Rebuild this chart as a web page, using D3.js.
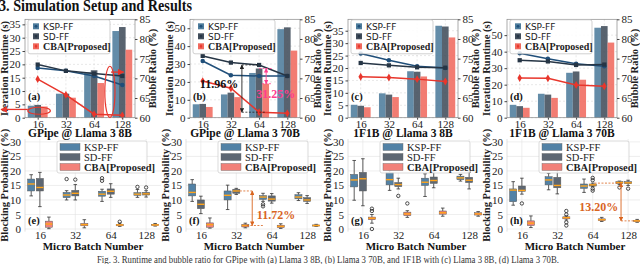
<!DOCTYPE html>
<html>
<head>
<meta charset="utf-8">
<script src="https://cdn.jsdelivr.net/npm/d3@7"></script>
<style>
body { margin: 0; background: #fff; }
svg { display: block; }
</style>
</head>
<body>
<div id="chart"></div>
<script>
// runtime / bubble ratio (top) and blocking probability (bottom)

const xCats = ["16", "32", "64", "128"]
const topTitles = ["GPipe @ Llama 3 8B", "GPipe @ Llama 3 70B", "1F1B @ Llama 3 8B", "1F1B @ Llama 3 70B"]
const topTags = ["(a)", "(b)", "(c)", "(d)"]
const botTags = ["(e)", "(f)", "(g)", "(h)"]
const seriesNames = ["KSP-FF", "SD-FF", "CBA[Proposed]"]

// iteration runtime bars (s)
const rtKSP = [[4.5, 9.0, 17.0, 32.5], [7.5, 13.0, 25.0, 49.5], [5.2, 9.8, 18.7, 37.0], [7.8, 14.5, 27.2, 54.5]]
const rtSD  = [[4.8, 9.0, 17.8, 34.0], [7.7, 14.0, 27.5, 50.5], [4.8, 9.3, 18.5, 36.7], [7.0, 14.0, 28.0, 55.5]]
const rtCBA = [[4.2, 7.5, 13.0, 25.5], [6.0, 11.5, 19.0, 37.5], [4.2, 8.3, 16.6, 32.3], [6.0, 12.0, 23.0, 45.5]]
// bubble ratio lines (%)
const brKSP = [[72.6, 71.9, 70.6, 68.3], [74.4, 70.8, 70.6, 70.6], [76.3, 74.6, 73.1, 72.6], [76.4, 75.0, 73.7, 73.1]]
const brSD  = [[73.5, 71.9, 71.2, 70.6], [75.7, 74.0, 73.4, 70.6], [73.9, 73.3, 72.8, 72.7], [74.6, 74.3, 73.4, 73.5]]
const brCBA = [[69.8, 65.8, 60.9, 60.6], [69.3, 67.5, 61.4, 61.1], [70.4, 70.2, 69.8, 69.2], [70.1, 70.0, 68.3, 68.0]]
const rtMax = [36.9, 55, 39.6, 59.6]
const rtTicks = [[0, 5, 10, 15, 20, 25, 30, 35], [0, 10, 20, 30, 40, 50], [0, 5, 10, 15, 20, 25, 30, 35], [0, 10, 20, 30, 40, 50]]
const brTicks = [60, 65, 70, 75, 80, 85]

// blocking probability boxes: [low whisker, q1, median, q3, high whisker]
const boxKSP = [
  [[11.4, 13.1, 15.5, 17.2, 18.7], [10.0, 10.8, 11.7, 12.6, 13.2], [9.5, 11.3, 12.0, 13.0, 13.7], [10.9, 11.6, 12.0, 12.5, 13.6]],
  [[9.5, 11.4, 12.6, 15.5, 17.0], [6.7, 10.0, 11.6, 13.1, 15.1], [9.5, 10.2, 11.0, 11.5, 12.3], [9.8, 10.4, 11.0, 11.8, 12.5]],
  [[9.9, 14.5, 16.9, 18.8, 23.6], [13.3, 15.2, 17.0, 19.5, 20.1], [11.2, 15.0, 16.1, 17.5, 19.0], [16.5, 17.0, 17.6, 18.2, 18.8]],
  [[8.2, 9.4, 13.4, 13.8, 16.3], [13.5, 15.2, 16.9, 18.0, 19.2], [12.6, 14.0, 14.8, 15.5, 17.2], [15.3, 15.7, 16.0, 16.3, 16.5]]
]
const boxSD = [
  [[7.7, 13.1, 14.3, 17.4, 19.5], [10.0, 11.4, 12.3, 13.3, 15.3], [10.9, 12.0, 13.0, 13.8, 15.6], [11.0, 11.7, 12.1, 12.6, 13.2]],
  [[5.3, 7.0, 8.5, 10.0, 11.3], [11.9, 12.3, 13.1, 13.7, 14.0], [8.9, 9.6, 10.3, 11.4, 12.2], [8.8, 9.5, 10.0, 10.8, 11.5]],
  [[8.0, 13.1, 17.3, 19.5, 24.2], [13.8, 14.6, 15.3, 16.0, 17.5], [14.2, 15.7, 16.7, 17.9, 20.0], [13.8, 16.0, 16.8, 17.8, 19.6]],
  [[12.0, 13.0, 13.3, 14.8, 17.5], [12.1, 14.2, 15.0, 17.8, 20.5], [14.6, 14.8, 15.2, 15.5, 15.8], [15.0, 15.6, 15.9, 16.3, 16.8]]
]
const boxCBA = [
  [[0.1, 0.6, 1.7, 2.7, 4.1], [0.4, 1.1, 1.5, 1.9, 3.2], [0.9, 1.1, 1.4, 1.6, 2.0], [1.0, 1.2, 1.4, 1.6, 1.9]],
  [[0.3, 0.6, 1.5, 2.1, 3.8], [0.4, 0.7, 1.2, 1.6, 2.0], [0.2, 0.5, 0.9, 1.3, 1.8], [0.9, 1.0, 1.2, 1.4, 1.6]],
  [[2.0, 3.2, 3.7, 4.1, 5.0], [4.0, 4.6, 5.2, 5.8, 6.3], [4.4, 5.1, 5.6, 6.2, 7.2], [4.4, 4.8, 5.2, 5.6, 6.0]],
  [[0.5, 1.2, 2.0, 2.8, 4.5], [3.1, 3.5, 3.9, 4.2, 4.5], [2.6, 2.9, 3.2, 3.5, 4.0], [2.3, 2.5, 2.8, 3.0, 3.3]]
]
const outKSP = [[[], [17.2], [17.5, 16.6], [14.5]], [[], [], [8.5, 7.8], []], [[], [], [], []], [[], [], [], [14.3]]]
const outSD  = [[[], [17.0], [], [14.3]], [[], [], [], []], [[], [11.4], [], []], [[8.8], [], [17.6, 16.8, 13.9, 13.2], [13.9]]]
const outCBA = [[[], [], [2.5], []], [[], [], [], []], [[7.0, 6.2, 0.0], [8.8], [], []], [[], [6.2, 5.0, 2.3, 1.2], [], []]]
const botTicks = [0, 5, 10, 15, 20, 25, 30]

// annotations
const annBubble = [73.4, 61.4], annBubbleText = "11.96%"
const annRuntime = [27.5, 19.0], annRuntimeText = "31.25%"
const annF = [13.1, 1.2], annFText = "11.72%"
const annH = [15.8, 2.8], annHText = "13.20%"

const serif = "'Liberation Serif', 'Times New Roman', serif"
const sans = "'DejaVu Sans', sans-serif"
const barCol = ["#4d7c9c", "#414d5b", "#f06a5e"]
const lineCol = ["#1f4e79", "#263545", "#e8362c"]
const boxCol = ["#5282a6", "#5d6773", "#f28179"]
const annOrange = "#d9651f"

const svg = d3.select("#chart").append("svg")
  .attr("width", 640).attr("height", 264)
  .style("font-family", serif)

const defs = svg.append("defs")
function mk(id, col) {
  defs.append("marker").attr("id", id).attr("viewBox", "0 0 10 10")
    .attr("refX", 9).attr("refY", 5).attr("markerWidth", 5).attr("markerHeight", 5)
    .attr("orient", "auto-start-reverse")
    .append("path").attr("d", "M0,0L10,5L0,10z").attr("fill", col)
}
mk("arRed", "#e8362c"); mk("arBlack", "#222"); mk("arPink", "#ff3d8f"); mk("arOrange", annOrange)

svg.append("text").attr("x", -1).attr("y", 11)
  .attr("font-size", 16).attr("font-weight", "bold").attr("fill", "#111")
  .attr("textLength", 193).attr("lengthAdjust", "spacingAndGlyphs")
  .text("3. Simulation Setup and Results")

const topLeft = [25, 190, 348, 507]
const topW = 110, tTop = 19.3, tBot = 117.7

function styleAxis(ax, size) {
  ax.select(".domain").remove()
  ax.selectAll(".tick line").attr("stroke", "#444")
  ax.selectAll(".tick text").attr("font-family", serif).attr("font-size", size).attr("fill", "#222")
}

function drawTop(i) {
  const L = topLeft[i], R = L + topW
  const g = svg.append("g")
  const x = d3.scaleLinear().domain([-0.45, 3.45]).range([L, R])
  const yL = d3.scaleLinear().domain([0, rtMax[i]]).range([tBot, tTop])
  const yR = d3.scaleLinear().domain([60, 85]).range([tBot, tTop])
  const bw = x(0.235) - x(0)

  g.selectAll(".hg").data(rtTicks[i]).join("line")
    .attr("x1", L).attr("x2", R).attr("y1", d => yL(d)).attr("y2", d => yL(d))
    .attr("stroke", "#d8d8d8").attr("stroke-width", 0.6).attr("stroke-dasharray", "2,2")
  g.selectAll(".vg").data([0, 1, 2, 3]).join("line")
    .attr("x1", d => x(d)).attr("x2", d => x(d)).attr("y1", tTop).attr("y2", tBot)
    .attr("stroke", "#d8d8d8").attr("stroke-width", 0.6).attr("stroke-dasharray", "2,2")

  const bars = [rtKSP[i], rtSD[i], rtCBA[i]]
  bars.forEach((vals, s) => {
    g.selectAll(".b" + s).data(vals).join("rect")
      .attr("x", (d, k) => x(k + (s - 1) * 0.235) - bw / 2)
      .attr("y", d => yL(d)).attr("width", bw).attr("height", d => tBot - yL(d))
      .attr("fill", barCol[s]).attr("fill-opacity", 0.88)
  })

  const lines = [brKSP[i], brSD[i], brCBA[i]]
  const ln = d3.line().x((d, k) => x(k)).y(d => yR(d))
  lines.forEach((vals, s) => {
    g.append("path").attr("d", ln(vals)).attr("fill", "none")
      .attr("stroke", lineCol[s]).attr("stroke-width", 1.5)
    const sym = [d3.symbolCircle, d3.symbolSquare, d3.symbolDiamond][s]
    const sz = [16, 18, 18][s]
    g.selectAll(".m" + s).data(vals).join("path")
      .attr("transform", (d, k) => `translate(${x(k)},${yR(d)})`)
      .attr("d", d3.symbol(sym, sz)).attr("fill", lineCol[s])
  })

  g.append("rect").attr("x", L).attr("y", tTop).attr("width", topW).attr("height", tBot - tTop)
    .attr("fill", "none").attr("stroke", "#888").attr("stroke-width", 0.7)

  const axL = g.append("g").attr("transform", `translate(${L},0)`)
    .call(d3.axisLeft(yL).tickValues(rtTicks[i]).tickSize(2.5).tickPadding(2))
  styleAxis(axL, 11)
  const axR = g.append("g").attr("transform", `translate(${R},0)`)
    .call(d3.axisRight(yR).tickValues(brTicks).tickSize(2.5).tickPadding(2))
  styleAxis(axR, 11)
  const axB = g.append("g").attr("transform", `translate(0,${tBot})`)
    .call(d3.axisBottom(x).tickValues([0, 1, 2, 3]).tickFormat(k => xCats[k]).tickSize(2).tickPadding(0))
  styleAxis(axB, 11)

  g.append("text").attr("transform", `translate(${L - 17},${(tTop + tBot) / 2}) rotate(-90)`)
    .attr("text-anchor", "middle").attr("font-size", 10.5).attr("font-weight", "bold").attr("fill", "#222")
    .text("Iteration Runtime (s)")
  g.append("text").attr("transform", `translate(${R + 21},${(tTop + tBot) / 2}) rotate(-90)`)
    .attr("text-anchor", "middle").attr("font-size", 10.5).attr("font-weight", "bold").attr("fill", "#222")
    .text("Bubble Ratio (%)")
  g.append("text").attr("x", (L + R) / 2).attr("y", 137).attr("text-anchor", "middle")
    .attr("font-size", 11.5).attr("font-weight", "bold").attr("fill", "#111").text(topTitles[i])
  g.append("text").attr("x", L + 3).attr("y", 100).attr("font-size", 10.5)
    .attr("font-weight", "bold").attr("fill", "#111").text(topTags[i])

  // legend
  const lg = g.append("g").attr("transform", `translate(${L + 3},${tTop + 0.5})`)
  lg.append("rect").attr("width", 82).attr("height", 34).attr("rx", 2)
    .attr("fill", "#fff").attr("fill-opacity", 0.85).attr("stroke", "#bbb").attr("stroke-width", 0.7)
  seriesNames.forEach((nm, s) => {
    const yy = 6.5 + s * 10
    lg.append("rect").attr("x", 5).attr("y", yy - 3).attr("width", 6).attr("height", 6).attr("fill", barCol[s])
    lg.append("path").attr("transform", `translate(8,${yy})`)
      .attr("d", d3.symbol([d3.symbolCircle, d3.symbolSquare, d3.symbolDiamond][s], 6)).attr("fill", lineCol[s])
    lg.append("text").attr("x", 15).attr("y", yy + 3.3)
      .attr("font-family", s < 2 ? sans : serif).attr("font-size", s < 2 ? 9 : 10)
      .attr("font-weight", s < 2 ? "normal" : "bold").attr("fill", "#222").text(nm)
  })
  return { x, yL, yR, g }
}

const tops = [0, 1, 2, 3].map(drawTop)

// annotations on (a)
{
  const { x, yL, g } = tops[0]
  g.append("ellipse").attr("cx", x(0.05)).attr("cy", yL(2.6)).attr("rx", x(0.4) - x(0)).attr("ry", 3.5)
    .attr("fill", "none").attr("stroke", "#e8362c").attr("stroke-width", 1.2)
  g.append("line").attr("x1", x(-0.35)).attr("x2", x(-1.3)).attr("y1", yL(3.1)).attr("y2", yL(3.1))
    .attr("stroke", "#e8362c").attr("stroke-width", 1.3).attr("marker-end", "url(#arRed)")
  g.append("ellipse").attr("cx", x(2.56)).attr("cy", yL(9.7)).attr("rx", x(0.18) - x(0)).attr("ry", yL(0) - yL(9.6))
    .attr("fill", "none").attr("stroke", "#e8362c").attr("stroke-width", 1.2)
  g.append("line").attr("x1", x(2.6)).attr("x2", x(3.05)).attr("y1", yL(17.1)).attr("y2", yL(17.1))
    .attr("stroke", "#e8362c").attr("stroke-width", 1.3).attr("marker-end", "url(#arRed)")
}
// annotations on (b)
{
  const { x, yL, yR, g } = tops[1]
  const ax = 1.39
  g.append("line").attr("x1", x(ax)).attr("x2", x(2)).attr("y1", yR(annBubble[0])).attr("y2", yR(annBubble[0]))
    .attr("stroke", "#222").attr("stroke-width", 0.8).attr("stroke-dasharray", "2,1.5")
  g.append("line").attr("x1", x(ax)).attr("x2", x(2.2)).attr("y1", yR(annBubble[1])).attr("y2", yR(annBubble[1]))
    .attr("stroke", "#222").attr("stroke-width", 0.8).attr("stroke-dasharray", "2,1.5")
  g.append("line").attr("x1", x(ax)).attr("x2", x(ax)).attr("y1", yR(annBubble[0])).attr("y2", yR(annBubble[1]))
    .attr("stroke", "#222").attr("stroke-width", 0.9)
    .attr("marker-start", "url(#arBlack)").attr("marker-end", "url(#arBlack)")
  g.append("text").attr("x", x(-0.1)).attr("y", yR(67.6)).attr("font-size", 12).attr("font-weight", "bold")
    .attr("fill", "#111").text(annBubbleText)
  const px = 2.25
  g.append("line").attr("x1", x(2.0)).attr("x2", x(2.45)).attr("y1", yL(annRuntime[0])).attr("y2", yL(annRuntime[0]))
    .attr("stroke", "#ff3d8f").attr("stroke-width", 0.8).attr("stroke-dasharray", "2,1.5")
  g.append("line").attr("x1", x(2.1)).attr("x2", x(2.45)).attr("y1", yL(annRuntime[1])).attr("y2", yL(annRuntime[1]))
    .attr("stroke", "#ff3d8f").attr("stroke-width", 0.8).attr("stroke-dasharray", "2,1.5")
  g.append("line").attr("x1", x(px)).attr("x2", x(px)).attr("y1", yL(annRuntime[0])).attr("y2", yL(annRuntime[1]))
    .attr("stroke", "#ff3d8f").attr("stroke-width", 0.9)
    .attr("marker-start", "url(#arPink)").attr("marker-end", "url(#arPink)")
  g.append("text").attr("x", x(1.9)).attr("y", yL(11.2)).attr("font-size", 12).attr("font-weight", "bold")
    .attr("fill", "#ff3d8f").text(annRuntimeText)
}

// bottom box panels
const botLeft = [25, 186, 348, 507]
const botW = 136, bTop = 139, bBot = 231.6
const offs = [-0.245, 0, 0.255]

function drawBot(i) {
  const L = botLeft[i], R = L + botW
  const g = svg.append("g")
  const x = d3.scaleLinear().domain([-0.42, 3.42]).range([L, R])
  const y = d3.scaleLinear().domain([-0.9, 31]).range([bBot, bTop])
  const bw = x(0.2) - x(0), cw = x(0.1) - x(0)

  g.selectAll(".hg").data(botTicks).join("line")
    .attr("x1", L).attr("x2", R).attr("y1", d => y(d)).attr("y2", d => y(d))
    .attr("stroke", "#e2e2e2").attr("stroke-width", 0.6)
  g.selectAll(".vg").data([0, 1, 2, 3]).join("line")
    .attr("x1", d => x(d)).attr("x2", d => x(d)).attr("y1", bTop).attr("y2", bBot)
    .attr("stroke", "#e2e2e2").attr("stroke-width", 0.6)

  const sets = [[boxKSP[i], outKSP[i]], [boxSD[i], outSD[i]], [boxCBA[i], outCBA[i]]]
  sets.forEach(([bx, outs], s) => {
    bx.forEach((b, k) => {
      const cx = x(k + offs[s])
      g.append("line").attr("x1", cx).attr("x2", cx).attr("y1", y(b[0])).attr("y2", y(b[1])).attr("stroke", "#333").attr("stroke-width", 0.8)
      g.append("line").attr("x1", cx).attr("x2", cx).attr("y1", y(b[3])).attr("y2", y(b[4])).attr("stroke", "#333").attr("stroke-width", 0.8)
      g.append("line").attr("x1", cx - cw / 2).attr("x2", cx + cw / 2).attr("y1", y(b[0])).attr("y2", y(b[0])).attr("stroke", "#333").attr("stroke-width", 0.8)
      g.append("line").attr("x1", cx - cw / 2).attr("x2", cx + cw / 2).attr("y1", y(b[4])).attr("y2", y(b[4])).attr("stroke", "#333").attr("stroke-width", 0.8)
      g.append("rect").attr("x", cx - bw / 2).attr("y", y(b[3])).attr("width", bw).attr("height", y(b[1]) - y(b[3]))
        .attr("fill", boxCol[s]).attr("stroke", "#555").attr("stroke-width", 0.5)
      g.append("line").attr("x1", cx - bw / 2).attr("x2", cx + bw / 2).attr("y1", y(b[2])).attr("y2", y(b[2]))
        .attr("stroke", "#ffa31a").attr("stroke-width", 1.4)
      g.selectAll(null).data(outs[k]).join("circle")
        .attr("cx", cx).attr("cy", d => y(d)).attr("r", 1.7)
        .attr("fill", "none").attr("stroke", "#222").attr("stroke-width", 0.8)
    })
  })

  const axL = g.append("g").attr("transform", `translate(${L},0)`)
    .call(d3.axisLeft(y).tickValues(botTicks).tickSize(0).tickPadding(4))
  styleAxis(axL, 11)
  g.append("line").attr("x1", L).attr("x2", L).attr("y1", bTop).attr("y2", bBot).attr("stroke", "#ccc").attr("stroke-width", 0.6)
  const axB = g.append("g").attr("transform", `translate(0,${bBot})`)
    .call(d3.axisBottom(x).tickValues([0, 1, 2, 3]).tickFormat(k => xCats[k]).tickSize(0).tickPadding(0))
  styleAxis(axB, 11)

  g.append("text").attr("transform", `translate(${L - 17},${(bTop + bBot) / 2}) rotate(-90)`)
    .attr("text-anchor", "middle").attr("font-size", 10.5).attr("font-weight", "bold").attr("fill", "#222")
    .text("Blocking Probability (%)")
  g.append("text").attr("x", x(1.5)).attr("y", 250).attr("text-anchor", "middle")
    .attr("font-size", 11).attr("font-weight", "bold").attr("fill", "#111").text("Micro Batch Number")
  g.append("text").attr("x", L + 3).attr("y", 224).attr("font-size", 10.5)
    .attr("font-weight", "bold").attr("fill", "#111").text(botTags[i])

  const lg = g.append("g").attr("transform", `translate(${L + 32},${bTop + 2})`)
  lg.append("rect").attr("width", 90).attr("height", 32).attr("rx", 2)
    .attr("fill", "#fff").attr("fill-opacity", 0.85).attr("stroke", "#ccc").attr("stroke-width", 0.7)
  seriesNames.forEach((nm, s) => {
    const yy = 6 + s * 10
    lg.append("rect").attr("x", 3).attr("y", yy - 3.5).attr("width", 20).attr("height", 7)
      .attr("fill", boxCol[s]).attr("stroke", "#666").attr("stroke-width", 0.4)
    lg.append("text").attr("x", 27).attr("y", yy + 3.5).attr("font-size", 10.5)
      .attr("font-weight", s < 2 ? "normal" : "bold").attr("fill", "#222").text(nm)
  })
  return { x, y, g }
}

const bots = [0, 1, 2, 3].map(drawBot)

function gapAnn(p, vals, xTop, xArrow, xBot, txt, txtX, txtY, anchor) {
  const { x, y, g } = p
  g.append("line").attr("x1", x(xTop[0])).attr("x2", x(xTop[1])).attr("y1", y(vals[0])).attr("y2", y(vals[0]))
    .attr("stroke", annOrange).attr("stroke-width", 0.8).attr("stroke-dasharray", "2,1.5")
  g.append("line").attr("x1", x(xBot[0])).attr("x2", x(xBot[1])).attr("y1", y(vals[1])).attr("y2", y(vals[1]))
    .attr("stroke", annOrange).attr("stroke-width", 0.8).attr("stroke-dasharray", "2,1.5")
  g.append("line").attr("x1", x(xArrow)).attr("x2", x(xArrow)).attr("y1", y(vals[0])).attr("y2", y(vals[1]))
    .attr("stroke", annOrange).attr("stroke-width", 0.9)
    .attr("marker-start", "url(#arOrange)").attr("marker-end", "url(#arOrange)")
  g.append("text").attr("x", x(txtX)).attr("y", y(txtY)).attr("text-anchor", anchor)
    .attr("font-size", 12).attr("font-weight", "bold").attr("fill", annOrange).text(txt)
}
gapAnn(bots[1], annF, [1.1, 1.45], 1.45, [1.3, 1.75], annFText, 1.58, 3.4, "start")
gapAnn(bots[3], annH, [2.05, 2.85], 2.8, [2.8, 3.15], annHText, 2.72, 6.2, "end")

svg.append("text").attr("x", 97).attr("y", 263).attr("font-size", 10.5).attr("fill", "#333")
  .attr("textLength", 462).attr("lengthAdjust", "spacingAndGlyphs")
  .text("Fig. 3. Runtime and bubble ratio for GPipe with (a) Llama 3 8B, (b) Llama 3 70B, and 1F1B with (c) Llama 3 8B, (d) Llama 3 70B.")
</script>
</body>
</html>
